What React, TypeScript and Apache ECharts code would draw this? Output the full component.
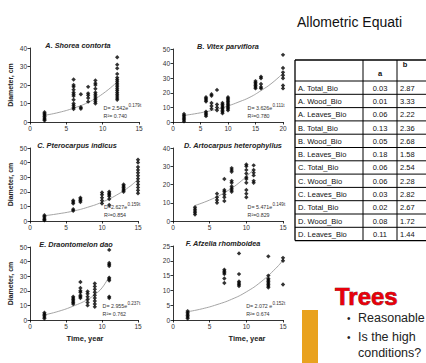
import React, { useEffect, useRef } from "react";
import * as echarts from "echarts";

type Obs = [number, number[]][];
type Pt = [number, number];

// Observations: [time (year), diameters (cm)]
const shoreaObs: Obs = [
  [2, [0.8, 1.5, 2.2, 3, 3.8, 4.5, 5.3]],
  [6, [7, 8, 9, 10, 12, 14, 15, 16, 17.5, 19, 20, 23]],
  [7, [7.2, 8, 15]],
  [8, [11, 13, 14.5, 15.5, 19]],
  [9, [10, 11, 12, 13, 14, 15, 16, 18, 20, 21, 22.5]],
  [12, [12, 13, 14, 15, 16, 17, 18, 19, 20, 21, 22, 23, 24, 26, 29, 31, 35]],
];
const vitexObs: Obs = [
  [2, [0.5, 1.5, 2.5, 3.5, 4.5, 5.5]],
  [6, [4, 5, 6, 7, 14, 15, 16, 17]],
  [7, [9, 11, 13, 18, 19]],
  [8, [8, 10, 12, 22]],
  [9, [6, 7, 8, 9, 10, 11, 12, 13]],
  [10, [8, 9, 10, 11, 12, 13, 14, 15, 16, 17]],
  [15, [23, 24, 25, 26, 27, 28]],
  [16, [23, 24, 26, 30, 31]],
  [20, [23, 25, 30, 32, 34, 37, 46]],
];
const pterocarpusObs: Obs = [
  [2, [0.5, 1, 2, 3, 4]],
  [6, [7, 8, 12, 13, 14]],
  [7, [13, 14, 15, 16]],
  [10, [12, 14, 16, 18, 19.5]],
  [11, [11, 15, 17, 18, 19, 20]],
  [13, [20, 21, 22, 23, 24, 25]],
  [15, [19, 21, 23, 25, 27, 29, 31, 33, 35, 37, 40, 42]],
];
const artocarpusObs: Obs = [
  [3, [3.5, 4.5, 5.5, 6.5, 7.5]],
  [6, [10, 11.5, 13, 15]],
  [7, [11, 13, 14.5, 16, 17, 23]],
  [8, [16, 17, 18, 19, 21, 22, 27, 28, 29]],
  [10, [13, 15, 17, 21, 23, 24, 26, 28, 30, 31]],
  [11, [21, 22, 25, 26.5, 28, 30.5]],
];
const draontomelonObs: Obs = [
  [2, [1, 2, 3, 4, 5]],
  [6, [11, 12, 13, 14, 15, 16]],
  [7, [15, 16, 17, 19, 20, 22, 26]],
  [8, [10, 12, 14, 16, 18, 19.5]],
  [9, [9, 11, 13, 15, 17, 19, 21, 23, 25]],
  [11, [15, 16, 27, 28, 29, 37, 38, 39, 48]],
];
const afzeliaObs: Obs = [
  [2, [0.5, 1, 1.5, 2, 2.5, 3]],
  [7, [12.5, 14, 15.5, 16, 16.5, 17]],
  [9, [11.5, 12, 12.5, 13, 15.5, 22.5]],
  [13, [11, 11.5, 12, 12.5, 13, 13.5, 14, 15, 21.5]],
  [15, [12, 20, 21]],
];

// Fitted exponential curves
const shoreaFit: Pt[] = [[2, 3.6], [4, 5.2], [6, 7.5], [8, 10.6], [10, 15.2], [12, 21.7]];
const vitexFit: Pt[] = [[2, 4.5], [5, 6.3], [8, 8.8], [10, 11], [12, 13.8], [14, 17], [16, 21.5], [18, 26.7], [20, 33.4]];
const pterocarpusFit: Pt[] = [[2, 3.6], [4, 5], [6, 6.8], [8, 9.4], [10, 12.9], [12, 17.7], [14, 24.2], [15, 28.7]];
const artocarpusFit: Pt[] = [[3, 8.5], [5, 11.5], [7, 15.5], [9, 20.9], [11, 28.2]];
const draontomelonFit: Pt[] = [[2, 3.5], [4, 6], [6, 9.5], [8, 14], [9, 17.5], [10, 22], [11, 30]];
const afzeliaFit: Pt[] = [[2, 2.8], [4, 3.8], [6, 5.2], [8, 7], [10, 9.5], [12, 12.9], [14, 17.4], [15, 20.2]];

const panelObs = [shoreaObs, vitexObs, pterocarpusObs, artocarpusObs, draontomelonObs, afzeliaObs];
const panelFits = [shoreaFit, vitexFit, pterocarpusFit, artocarpusFit, draontomelonFit, afzeliaFit];

const panelTitles = [
  "A. Shorea contorta",
  "B. Vitex parviflora",
  "C. Pterocarpus indicus",
  "D. Artocarpus heterophyllus",
  "E. Draontomelon dao",
  "F. Afzelia rhomboidea",
];
const eqCoef = ["D= 2.542e", "D= 3.626e", "D=2.627e", "D= 5.471e", "D= 2.955e", "D= 2.072 e"];
const eqExp = ["0.179t", "0.111t", "0.159t", "0.149t", "0.237t", "0.152t"];
const eqR2 = ["R²= 0.740", "R²=0.780", "R²=0.854", "R²=0.829", "R²= 0.762", "R²= 0.674"];
const yMax = [40, 50, 50, 40, 50, 25];
const yStep = [10, 10, 10, 10, 10, 5];
const xMax = [15, 20, 15, 15, 15, 15];
const yName = "Diameter, cm";
const xName = "Time, year";

const slideTitle = "Allometric Equati";
const tableHeadA = "a";
const tableHeadB = "b";
const tableRows = [
  "A. Total_Bio", "A. Wood_Bio", "A. Leaves_Bio",
  "B. Total_Bio", "B. Wood_Bio", "B. Leaves_Bio",
  "C. Total_Bio", "C. Wood_Bio", "C. Leaves_Bio",
  "D. Total_Bio", "D. Wood_Bio", "D. Leaves_Bio",
];
const tableA = [0.03, 0.01, 0.06, 0.13, 0.05, 0.18, 0.06, 0.06, 0.03, 0.02, 0.08, 0.11];
const tableB = [2.87, 3.33, 2.22, 2.36, 2.68, 1.58, 2.54, 2.28, 2.82, 2.67, 1.72, 1.44];
const treesHeading = "Trees";
const bulletLines = ["Reasonable", "Is the high", "conditions?"];

// Layout
const boxes = [
  { left: 30, top: 48, width: 109, height: 74 },
  { left: 173, top: 49, width: 110, height: 73 },
  { left: 30, top: 148, width: 108, height: 73 },
  { left: 173, top: 148, width: 110, height: 73 },
  { left: 30, top: 247, width: 108, height: 73 },
  { left: 173, top: 246, width: 110, height: 74 },
];
const titleCx = [78, 228, 77, 233, 76, 223];
const FONT = "Arial, 'Liberation Sans', Helvetica, sans-serif";

// approximate Arial advance widths (em) for equation layout
const charEm = (c: string) => {
  if (/[0-9]/.test(c)) return 0.556;
  const m: Record<string, number> = { D: 0.722, "=": 0.584, " ": 0.278, e: 0.556, ".": 0.278, t: 0.278, R: 0.722, "²": 0.333 };
  return m[c] ?? 0.55;
};
const textW = (s: string, fs: number) => s.split("").reduce((a, c) => a + charEm(c), 0) * fs;

export default function App() {
  const ref = useRef<HTMLDivElement>(null);
  useEffect(() => {
    if (!ref.current) return;
    const chart = echarts.init(ref.current, undefined, { renderer: "svg" });
    const eqFs = 5.3;
    const supFs = 4.6;

    const grid: any[] = [];
    const xAxis: any[] = [];
    const yAxis: any[] = [];
    const series: any[] = [];
    const graphic: any[] = [];

    const axisCommon = {
      axisLine: { show: true, lineStyle: { color: "#000", width: 0.8 } },
      axisTick: { show: true, length: 2.5, lineStyle: { color: "#000", width: 0.8 } },
      axisLabel: { fontSize: 6.5, color: "#333", fontFamily: FONT, margin: 3 },
      splitLine: { show: false },
    };

    boxes.forEach((b, i) => {
      grid.push({ left: b.left, top: b.top, width: b.width, height: b.height, containLabel: false });
      xAxis.push({ ...axisCommon, type: "value", gridIndex: i, min: 0, max: xMax[i], interval: 5 });
      yAxis.push({ ...axisCommon, type: "value", gridIndex: i, min: 0, max: yMax[i], interval: yStep[i] });
      const pts: Pt[] = [];
      panelObs[i].forEach(([t, ds]) => ds.forEach((d) => pts.push([t, d])));
      series.push({
        type: "line",
        xAxisIndex: i,
        yAxisIndex: i,
        data: panelFits[i],
        smooth: true,
        showSymbol: false,
        lineStyle: { color: "#9a9a9a", width: 0.9 },
        z: 1,
      });
      series.push({
        type: "scatter",
        xAxisIndex: i,
        yAxisIndex: i,
        data: pts,
        symbol: "diamond",
        symbolSize: [4.4, 4.4],
        itemStyle: { color: "#000" },
        z: 2,
      });

      // panel title
      graphic.push({
        type: "text",
        x: titleCx[i],
        y: b.top - 3,
        style: {
          text: panelTitles[i],
          fontSize: 7.3,
          fontWeight: "bold",
          fontStyle: "italic",
          fontFamily: FONT,
          fill: "#222",
          textAlign: "center",
          textVerticalAlign: "middle",
        },
      });

      // equation
      const right = b.left + b.width + 2;
      const supX = right - textW(eqExp[i], supFs);
      const startX = supX - textW(eqCoef[i], eqFs);
      const y1 = b.top + b.height - 14;
      graphic.push({
        type: "text",
        x: supX,
        y: y1,
        style: { text: eqCoef[i], fontSize: eqFs, fontFamily: FONT, fill: "#333", textAlign: "right", textVerticalAlign: "middle" },
      });
      graphic.push({
        type: "text",
        x: supX + 0.2,
        y: y1 - 2.6,
        style: { text: eqExp[i], fontSize: supFs, fontFamily: FONT, fill: "#333", textAlign: "left", textVerticalAlign: "middle" },
      });
      graphic.push({
        type: "text",
        x: startX,
        y: y1 + 8,
        style: { text: eqR2[i], fontSize: eqFs, fontFamily: FONT, fill: "#333", textAlign: "left", textVerticalAlign: "middle" },
      });

      // y name on left column
      if (i % 2 === 0) {
        graphic.push({
          type: "text",
          x: 10,
          y: b.top + b.height / 2,
          rotation: Math.PI / 2,
          style: {
            text: yName,
            fontSize: 7,
            fontWeight: "bold",
            fontFamily: FONT,
            fill: "#222",
            textAlign: "center",
            textVerticalAlign: "middle",
          },
        });
      }
      // x name on bottom row
      if (i >= 4) {
        graphic.push({
          type: "text",
          x: i === 4 ? 85 : 247,
          y: 338,
          style: {
            text: xName,
            fontSize: 7.5,
            fontWeight: "bold",
            fontFamily: FONT,
            fill: "#222",
            textAlign: "center",
            textVerticalAlign: "middle",
          },
        });
      }
    });

    // slide title
    graphic.push({
      type: "text",
      x: 297,
      y: 22,
      style: { text: slideTitle, fontSize: 14, fontFamily: FONT, fill: "#111", textAlign: "left", textVerticalAlign: "middle" },
    });

    // table
    const tL = 295, c1 = 363, c2 = 397, tR = 432, hTop = 60, hBot = 81, rowH = 13.3;
    const tBot = hBot + rowH * tableRows.length;
    const line = (x1: number, y1: number, x2: number, y2: number, w = 1) => ({
      type: "line",
      shape: { x1, y1, x2, y2 },
      style: { stroke: "#000", lineWidth: w },
      silent: true,
    });
    graphic.push(line(tL, hTop, tR, hTop, 1.3));
    graphic.push(line(tL, tBot, tR, tBot, 1.3));
    graphic.push(line(tL, hTop, tL, tBot, 1.3));
    graphic.push(line(c1, hTop, c1, tBot));
    graphic.push(line(c2, hTop, c2, tBot));
    for (let r = 0; r < tableRows.length; r++) {
      graphic.push(line(tL, hBot + rowH * r, tR, hBot + rowH * r));
    }
    const tStyle = (text: string, align: string) => ({
      text,
      fontSize: 7.5,
      fontFamily: FONT,
      fill: "#111",
      textAlign: align,
      textVerticalAlign: "middle",
    });
    graphic.push({ type: "text", x: 380, y: 73, style: { ...tStyle(tableHeadA, "center"), fontWeight: "bold" } });
    graphic.push({ type: "text", x: 405, y: 64, style: { ...tStyle(tableHeadB, "center"), fontWeight: "bold" } });
    tableRows.forEach((name, r) => {
      const cy = hBot + rowH * r + rowH / 2 + 0.5;
      graphic.push({ type: "text", x: 298, y: cy, style: tStyle(name, "left") });
      graphic.push({ type: "text", x: 380, y: cy, style: tStyle(tableA[r].toFixed(2), "center") });
      graphic.push({ type: "text", x: 400, y: cy, style: tStyle(tableB[r].toFixed(2), "left") });
    });

    // Trees section
    graphic.push({
      type: "rect",
      shape: { x: 302, y: 310, width: 16, height: 60 },
      style: { fill: "#E9A21E" },
    });
    graphic.push({
      type: "text",
      x: 335,
      y: 296,
      style: {
        text: treesHeading,
        fontSize: 24,
        fontWeight: "bold",
        fontFamily: FONT,
        fill: "#E8000B",
        stroke: "#5a0000",
        lineWidth: 0.6,
        textAlign: "left",
        textVerticalAlign: "middle",
        textShadowColor: "rgba(0,0,0,0.75)",
        textShadowOffsetX: 1.5,
        textShadowOffsetY: 1.5,
        textShadowBlur: 0,
      },
    });
    const bulletYs = [318, 337, 353];
    bulletLines.forEach((t, k) => {
      if (k < 2) {
        graphic.push({
          type: "text",
          x: 347,
          y: bulletYs[k],
          style: { text: "•", fontSize: 10, fontFamily: FONT, fill: "#222", textAlign: "left", textVerticalAlign: "middle" },
        });
      }
      graphic.push({
        type: "text",
        x: 358,
        y: bulletYs[k],
        style: { text: t, fontSize: 12.5, fontFamily: FONT, fill: "#222", textAlign: "left", textVerticalAlign: "middle" },
      });
    });

    chart.setOption({
      animation: false,
      backgroundColor: "#fff",
      grid,
      xAxis,
      yAxis,
      series,
      graphic,
    });
    return () => chart.dispose();
  }, []);

  return (
    <div
      ref={ref}
      style={{ position: "fixed", left: 0, top: 0, width: 426, height: 363, background: "#fff" }}
    />
  );
}
